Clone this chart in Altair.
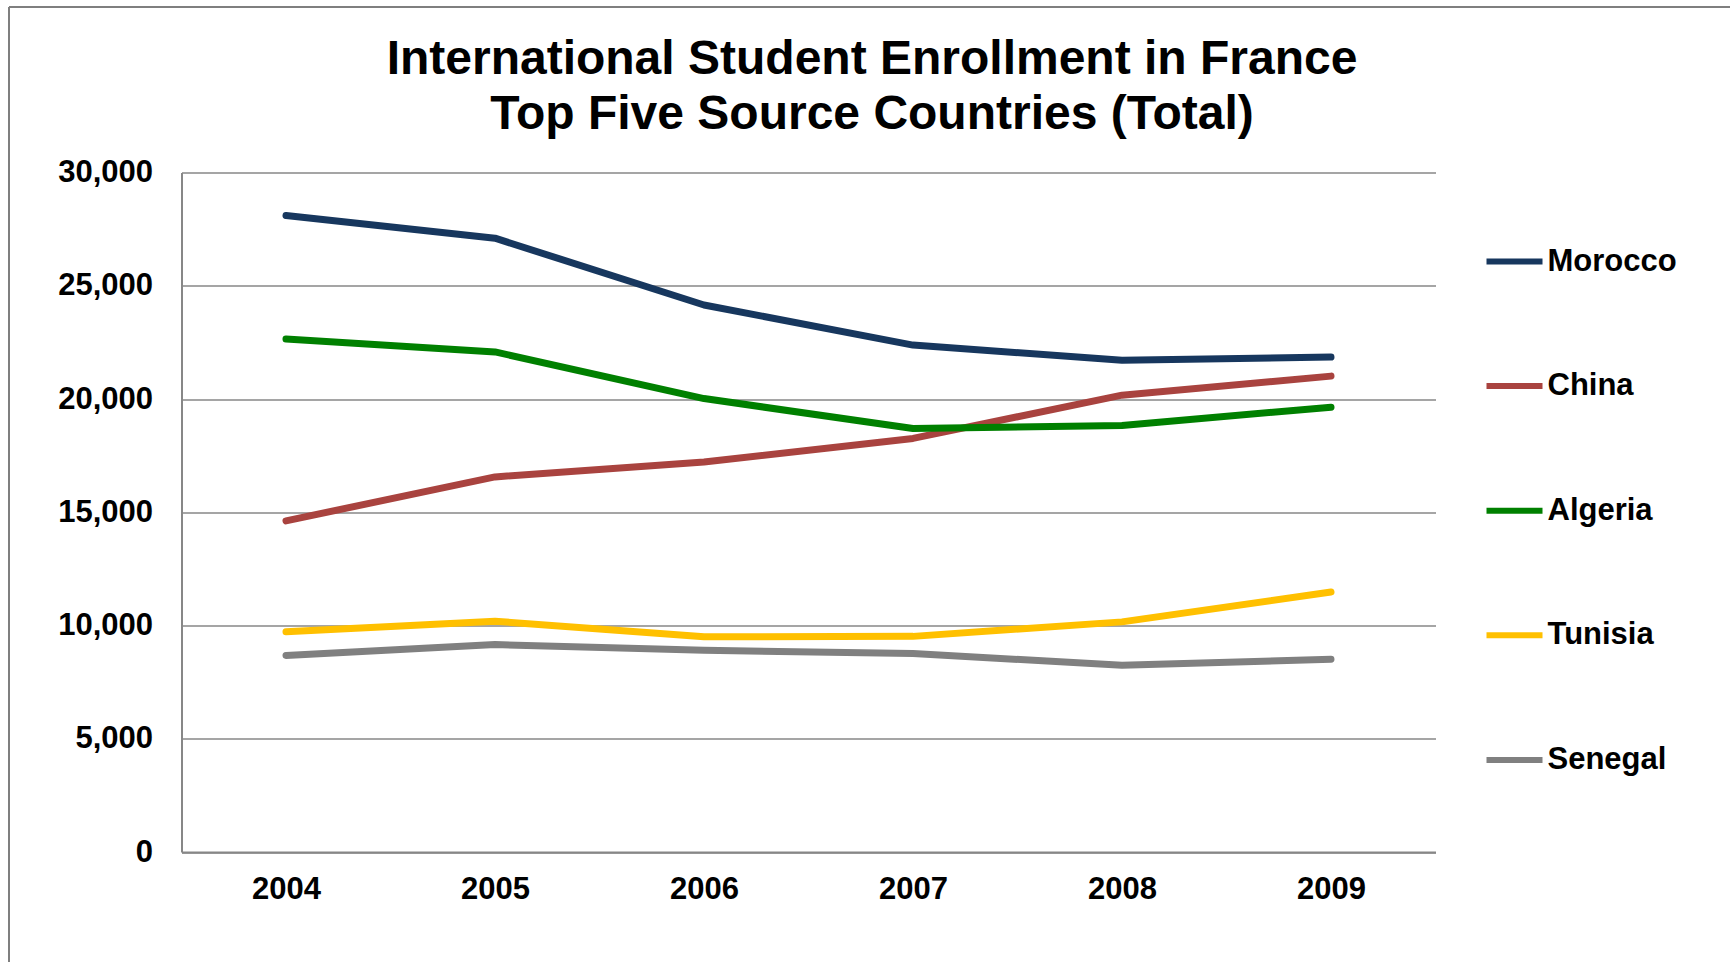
import altair as alt
import pandas as pd

years = ["2004", "2005", "2006", "2007", "2008", "2009"]
countries = ["Morocco", "China", "Algeria", "Tunisia", "Senegal"]
colors = ["#17375E", "#A9433F", "#008000", "#FFC000", "#808080"]
morocco = [28100, 27100, 24150, 22380, 21710, 21850]
china = [14620, 16560, 17220, 18260, 20170, 21010]
algeria = [22650, 22080, 20020, 18700, 18830, 19640]
tunisia = [9720, 10190, 9500, 9520, 10160, 11480]
senegal = [8680, 9160, 8910, 8760, 8250, 8510]
y_ticks = [0, 5000, 10000, 15000, 20000, 25000, 30000]
title_lines = ["International Student Enrollment in France",
               "Top Five Source Countries (Total)"]

series = {"Morocco": morocco, "China": china, "Algeria": algeria,
          "Tunisia": tunisia, "Senegal": senegal}
rows = []
for c in countries:
    for yr, v in zip(years, series[c]):
        rows.append({"Year": yr, "Country": c, "Students": v})
df = pd.DataFrame(rows)

FONT = "Liberation Sans"
W, H = 1254, 679.5
LEFT, TOP = 181.5, 172.5

lines = alt.Chart(df).mark_line(strokeWidth=7, strokeCap="round", strokeJoin="round").encode(
    x=alt.X("Year:O", sort=years,
            scale=alt.Scale(type="point", padding=0.5),
            axis=alt.Axis(title=None, labelAngle=0, labelFont=FONT, labelFontSize=31,
                          labelFontWeight="bold", labelColor="#000000", ticks=False,
                          labelPadding=22, domainColor="#878787", domainWidth=2,
                          grid=False)),
    y=alt.Y("Students:Q",
            scale=alt.Scale(domain=[0, 30000], nice=False),
            axis=alt.Axis(title=None, values=y_ticks, format=",d", labelFont=FONT,
                          labelFontSize=31, labelFontWeight="bold", labelColor="#000000",
                          ticks=False, labelPadding=29, domainColor="#878787",
                          domainWidth=2, grid=True, gridColor="#878787",
                          gridWidth=1.5)),
    color=alt.Color("Country:N",
                    scale=alt.Scale(domain=countries, range=colors),
                    legend=alt.Legend(title=None, orient="none", legendX=1302,
                                      legendY=58, symbolType="stroke",
                                      symbolSize=3136, symbolStrokeWidth=6,
                                      labelFont=FONT, labelFontSize=31,
                                      labelFontWeight="bold", labelColor="#000000",
                                      rowPadding=78.6, labelOffset=2, padding=0)),
    order=alt.Order("Year:O"),
)

title_df = pd.DataFrame({"t": ["\n".join(title_lines)]})
title = alt.Chart(title_df).mark_text(
    font=FONT, fontSize=48, fontWeight="bold", color="#000000",
    lineBreak="\n", lineHeight=55, align="center", baseline="middle").encode(
    text="t:N", x=alt.value(872 - LEFT), y=alt.value(59.7 - TOP))

border_df = pd.DataFrame({"k": ["top", "left"]})
top_border = alt.Chart(border_df).transform_filter(alt.datum.k == "top").mark_rule(
    color="#7f7f7f", strokeWidth=2).encode(
    x=alt.value(9 - LEFT), x2=alt.value(1730 - LEFT), y=alt.value(7 - TOP))
left_border = alt.Chart(border_df).transform_filter(alt.datum.k == "left").mark_rule(
    color="#7f7f7f", strokeWidth=2).encode(
    x=alt.value(9 - LEFT), y=alt.value(7 - TOP), y2=alt.value(962 - TOP))

chart = alt.layer(lines, title, top_border, left_border).properties(
    width=W, height=H,
    view=alt.ViewBackground(stroke="white", strokeWidth=0, strokeOpacity=0),
    padding={"left": LEFT, "top": TOP, "right": 1730 - LEFT - W, "bottom": 962 - TOP - H},
    autosize=alt.AutoSizeParams(type="none"),
).configure_view(stroke="white", strokeWidth=0, strokeOpacity=0).configure(background="white")

chart.save("out.html", embed_options={"renderer": "svg", "actions": False})
